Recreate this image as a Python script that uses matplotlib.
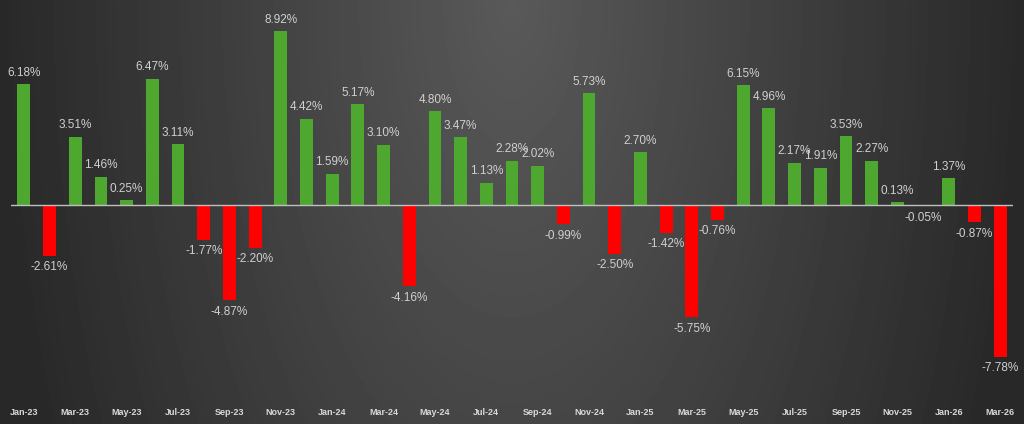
import matplotlib
matplotlib.use("Agg")
import matplotlib.pyplot as plt
import numpy as np

# monthly returns in %
months = ["Jan-23", "Feb-23", "Mar-23", "Apr-23", "May-23", "Jun-23", "Jul-23", "Aug-23",
          "Sep-23", "Oct-23", "Nov-23", "Dec-23", "Jan-24", "Feb-24", "Mar-24", "Apr-24",
          "May-24", "Jun-24", "Jul-24", "Aug-24", "Sep-24", "Oct-24", "Nov-24", "Dec-24",
          "Jan-25", "Feb-25", "Mar-25", "Apr-25", "May-25", "Jun-25", "Jul-25", "Aug-25",
          "Sep-25", "Oct-25", "Nov-25", "Dec-25", "Jan-26", "Feb-26", "Mar-26"]
returns = [6.18, -2.61, 3.51, 1.46, 0.25, 6.47, 3.11, -1.77, -4.87, -2.20, 8.92, 4.42,
           1.59, 5.17, 3.10, -4.16, 4.80, 3.47, 1.13, 2.28, 2.02, -0.99, 5.73, -2.50,
           2.70, -1.42, -5.75, -0.76, 6.15, 4.96, 2.17, 1.91, 3.53, 2.27, 0.13, -0.05,
           1.37, -0.87, -7.78]

green = "#4ea72e"
red = "#ff0000"

fig = plt.figure(figsize=(10.24, 4.24), dpi=100)

# background gradient: light in the middle column, dark towards the sides
bg = fig.add_axes([0, 0, 1, 1])
gx, gy = np.meshgrid(np.linspace(-1, 1, 512), np.linspace(0, 1, 212))
r = np.sqrt(gx ** 2 + (0.4 * gy) ** 2)
shade = 0.35 - 0.19 * np.clip(r, 0, 1)
bg.imshow(shade, cmap="gray", vmin=0, vmax=1, aspect="auto", origin="upper",
          extent=[0, 1, 0, 1])
bg.axis("off")

ax = fig.add_axes([11 / 1024, 24 / 424, 1002 / 1024, 390 / 424])
ax.patch.set_alpha(0)

x = np.arange(len(months))
colors = [green if v >= 0 else red for v in returns]
ax.bar(x, returns, width=0.5, color=colors, zorder=2)
ax.axhline(0, color="#bfbfbf", lw=1, zorder=3)

for xi, v in zip(x, returns):
    ax.annotate(f"{v:.2f}%", (xi, v), xytext=(0, 4 if v >= 0 else -4),
                textcoords="offset points", ha="center",
                va="bottom" if v >= 0 else "top",
                fontsize=8.5, color="#d0d0d0", family="Liberation Sans")

ax.set_xlim(-0.5, len(months) - 0.5)
ax.set_ylim(-10, 10)
ax.set_xticks(x[::2])
ax.set_xticklabels(months[::2], fontsize=6.5, fontweight="bold", color="#d9d9d9",
                   family="Liberation Sans")
ax.tick_params(axis="x", length=0, pad=6)
ax.set_yticks([])
for s in ax.spines.values():
    s.set_visible(False)

fig.savefig("out.png", dpi=100)
